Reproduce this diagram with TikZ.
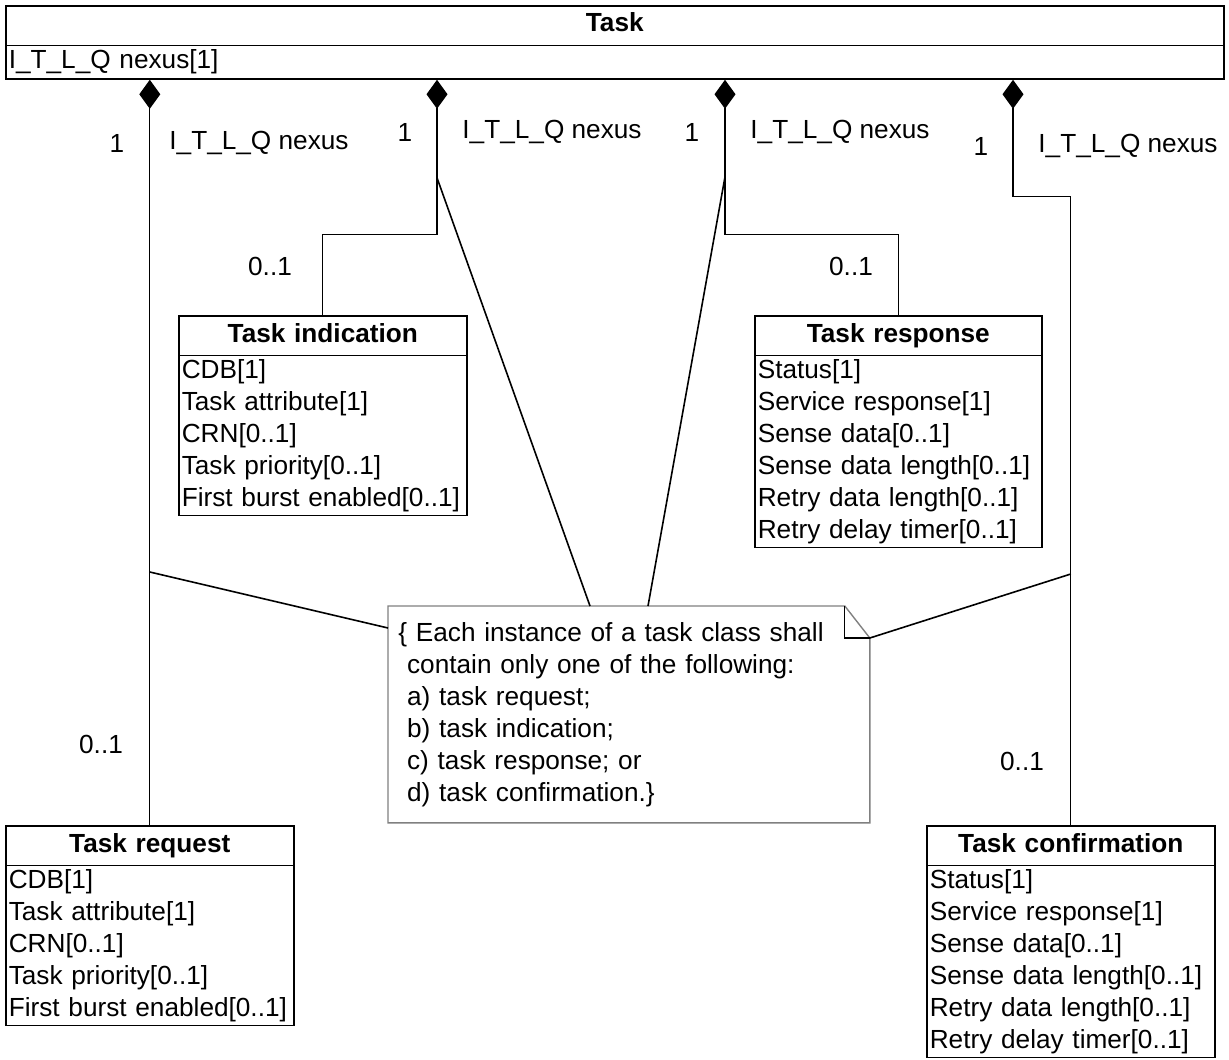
\documentclass[tikz,border=0pt]{standalone}
\usepackage{fontspec}
\setmainfont{Liberation Sans}
\usetikzlibrary{shapes.multipart, arrows.meta, positioning}

\begin{document}
\begin{tikzpicture}[x=0.5pt, y=-0.5pt,
        font=\fontsize{13.1}{16}\selectfont,
        umlclass/.style={draw, rectangle split, rectangle split parts=2, align=left, anchor=north west, inner xsep=1.5pt, inner ysep=1.5pt, line width=0.8pt, text width=141pt},
        comp/.style={{Diamond[length=14.5pt, width=10.5pt]}-, line width=0.6pt},
        link/.style={line width=0.8pt},
        notebox/.style={draw=black!50, line width=0.7pt}
    ]
        \useasboundingbox (0,0) rectangle (1229,1059);

        % classes
        \node[umlclass, text width=606pt] (task) at (5,5)
            {\makebox[\hsize]{\textbf{Task}\strut} \nodepart{second} I\_T\_L\_Q nexus[1]\rule[-3.5pt]{0pt}{11.5pt}};
        \node[umlclass] (ind) at (178,315)
            {\makebox[\hsize]{\textbf{Task indication}\strut} \nodepart{second}
             CDB[1]\\Task attribute[1]\\CRN[0..1]\\Task priority[0..1]\\First burst enabled[0..1]};
        \node[umlclass, text width=140.5pt] (resp) at (754,315)
            {\makebox[\hsize]{\textbf{Task response}\strut} \nodepart{second}
             Status[1]\\Service response[1]\\Sense data[0..1]\\Sense data length[0..1]\\Retry data length[0..1]\\Retry delay timer[0..1]};
        \node[umlclass] (req) at (5,825)
            {\makebox[\hsize]{\textbf{Task request}\strut} \nodepart{second}
             CDB[1]\\Task attribute[1]\\CRN[0..1]\\Task priority[0..1]\\First burst enabled[0..1]};
        \node[umlclass] (conf) at (926,825)
            {\makebox[\hsize]{\textbf{Task confirmation}\strut} \nodepart{second}
             Status[1]\\Service response[1]\\Sense data[0..1]\\Sense data length[0..1]\\Retry data length[0..1]\\Retry delay timer[0..1]};

        % constraint note
        \node[anchor=north west, text width=230.5pt, inner xsep=5pt, inner ysep=0pt, minimum height=108pt, align=left] (note) at (388,606)
            {\{ Each instance of a task class shall\\~contain only one of the following:\\~a) task request;\\~b) task indication;\\~c) task response; or\\~d) task confirmation.\}};
        \draw[notebox] (note.north west) -- ([xshift=-12.5pt]note.north east) -- ([yshift=-16pt]note.north east)
            -- (note.south east) -- (note.south west) -- cycle;
        \draw[line width=0.6pt] ([xshift=-12.5pt]note.north east) |- ([yshift=-16pt]note.north east);

        % compositions
        \path (437,0) coordinate (c2) (725,0) coordinate (c3) (1013,0) coordinate (c4);
        \draw[comp] (task.south -| req.north) -- (req.north);
        \draw[comp] (task.south -| c2) -- ++(0,155) -| (ind.north);
        \draw[comp] (task.south -| c3) -- ++(0,155) -| (resp.north);
        \draw[comp] (task.south -| c4) -- ++(0,117) -| (conf.north);

        % role names and multiplicities
        \node (m1) at (117,143) {1};
        \node (r1) at (259,143) {I\_T\_L\_Q nexus};
        \node (m2) at (405,132) {1};
        \node (r2) at (552,132) {I\_T\_L\_Q nexus};
        \node (m3) at (692,132) {1};
        \node (r3) at (840,132) {I\_T\_L\_Q nexus};
        \node (m4) at (981,146) {1};
        \node (r4) at (1128,146) {I\_T\_L\_Q nexus};
        \node (n1) at (101,744) {0..1};
        \node (n2) at (270,266) {0..1};
        \node (n3) at (851,266) {0..1};
        \node (n4) at (1022,761) {0..1};

        % note anchors
        \path (req.north) ++(0,-253) coordinate (j1);
        \path (task.south -| c2) ++(0,98) coordinate (j2);
        \path (task.south -| c3) ++(0,97) coordinate (j3);
        \path (conf.north) ++(0,-251) coordinate (j4);
        \draw[link] (j1) -- ([yshift=-11pt]note.north west);
        \draw[link] (j2) -- ([xshift=101pt]note.north west);
        \draw[link] (j3) -- ([xshift=130pt]note.north west);
        \draw[link] (j4) -- ([yshift=-16pt]note.north east);
    \end{tikzpicture}
\end{document}
